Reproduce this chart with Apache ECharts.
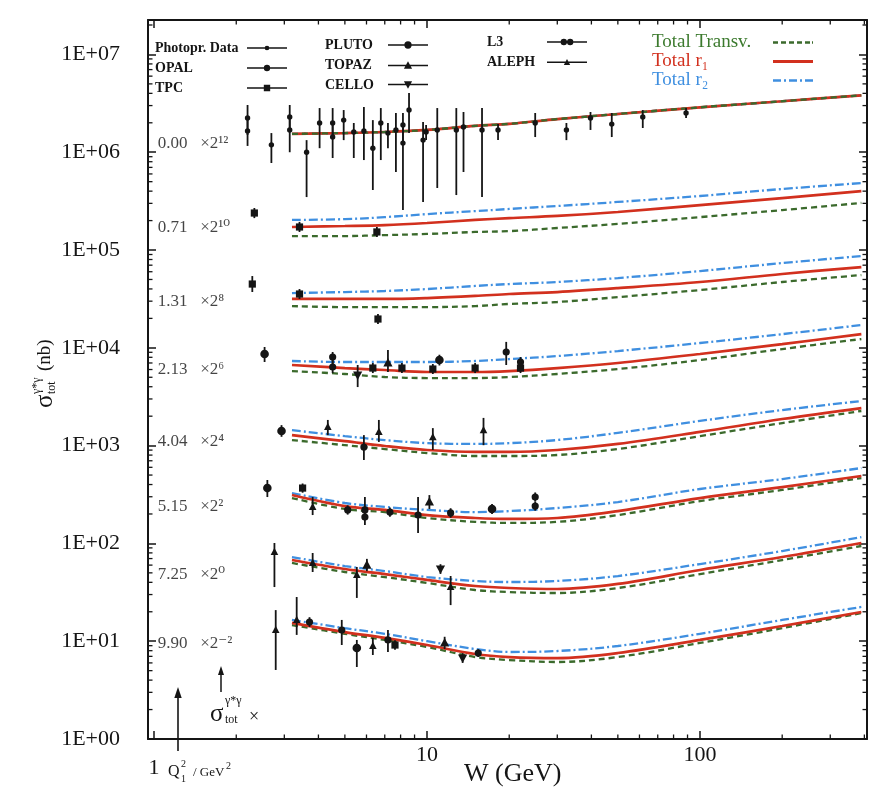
<!DOCTYPE html>
<html>
<head>
<meta charset="utf-8">
<title>Total γ*γ cross section</title>
<script src="https://cdn.jsdelivr.net/npm/echarts@6.0.0/dist/echarts.min.js"></script>
<style>
  html, body { margin: 0; padding: 0; background: #ffffff; }
  #chart { width: 875px; height: 792px; }
</style>
</head>
<body>
<div id="chart"></div>
<script>
// ---------------------------------------------------------------------------
// Model curves: W grid (GeV) and σ(γ*γ) values in nb, each bin already
// multiplied by the power-of-two factor written next to it.
// ---------------------------------------------------------------------------
const curveW = [3.2, 5, 7, 10, 15, 20, 30, 50, 100, 200, 390];

const bin000 = { // Q² = 0.00, ×2^12
  transv: [1.54e6, 1.57e6, 1.61e6, 1.69e6, 1.86e6, 1.95e6, 2.18e6, 2.46e6, 2.88e6, 3.32e6, 3.82e6],
  r1:     [1.54e6, 1.57e6, 1.61e6, 1.69e6, 1.86e6, 1.95e6, 2.18e6, 2.46e6, 2.88e6, 3.32e6, 3.82e6],
  r2:     [1.54e6, 1.57e6, 1.61e6, 1.69e6, 1.86e6, 1.95e6, 2.18e6, 2.46e6, 2.88e6, 3.32e6, 3.82e6]
};
const bin071 = { // Q² = 0.71, ×2^10
  transv: [1.39e5, 1.39e5, 1.42e5, 1.46e5, 1.53e5, 1.56e5, 1.68e5, 1.85e5, 2.17e5, 2.56e5, 3.03e5],
  r1:     [1.72e5, 1.76e5, 1.80e5, 1.89e5, 2.03e5, 2.12e5, 2.23e5, 2.45e5, 2.88e5, 3.40e5, 4.01e5],
  r2:     [2.03e5, 2.07e5, 2.17e5, 2.33e5, 2.50e5, 2.63e5, 2.82e5, 3.10e5, 3.57e5, 4.21e5, 4.84e5]
};
const bin131 = { // Q² = 1.31, ×2^8
  transv: [2.67e4, 2.61e4, 2.61e4, 2.61e4, 2.67e4, 2.81e4, 2.94e4, 3.30e4, 3.90e4, 4.71e4, 5.55e4],
  r1:     [3.16e4, 3.16e4, 3.16e4, 3.23e4, 3.39e4, 3.55e4, 3.72e4, 4.08e4, 4.71e4, 5.69e4, 6.70e4],
  r2:     [3.63e4, 3.72e4, 3.81e4, 3.99e4, 4.29e4, 4.49e4, 4.71e4, 5.17e4, 6.10e4, 7.36e4, 8.69e4]
};
const bin213 = { // Q² = 2.13, ×2^6
  transv: [5.79e3, 5.40e3, 5.03e3, 4.91e3, 4.91e3, 5.03e3, 5.40e3, 6.07e3, 7.50e3, 9.72e3, 1.23e4],
  r1:     [6.67e3, 6.21e3, 5.93e3, 5.66e3, 5.66e3, 5.79e3, 6.21e3, 7.00e3, 8.65e3, 1.09e4, 1.38e4],
  r2:     [7.33e3, 7.16e3, 7.16e3, 7.16e3, 7.33e3, 7.68e3, 8.24e3, 9.27e3, 1.12e4, 1.38e4, 1.71e4]
};
const bin404 = { // Q² = 4.04, ×2^4
  transv: [1140, 1010, 923, 840, 783, 783, 802, 923, 1250, 1700, 2260],
  r1:     [1280, 1110, 991, 902, 861, 861, 902, 1040, 1380, 1870, 2420],
  r2:     [1440, 1250, 1140, 1060, 1040, 1060, 1140, 1350, 1790, 2310, 2860]
};
const bin515 = { // Q² = 5.15, ×2^2
  transv: [291, 225, 209, 182, 166, 162, 166, 195, 271, 352, 466],
  r1:     [313, 241, 220, 195, 182, 178, 182, 214, 291, 377, 489],
  r2:     [327, 259, 236, 220, 209, 214, 230, 265, 360, 455, 590]
};
const bin725 = { // Q² = 7.25, ×2^0
  transv: [63.1, 51.0, 45.3, 39.4, 33.4, 31.8, 31.1, 35.0, 48.6, 67.6, 94.1],
  r1:     [67.6, 54.7, 48.6, 42.3, 36.7, 35.0, 34.2, 38.5, 53.5, 72.6, 101],
  r2:     [72.6, 58.7, 52.2, 45.3, 41.3, 40.3, 41.3, 46.4, 61.5, 83.6, 116]
};
const bin990 = { // Q² = 9.90, ×2^-2
  transv: [14.6, 11.9, 10.3, 8.73, 6.89, 6.42, 6.13, 6.89, 9.59, 13.6, 19.4],
  r1:     [15.4, 12.4, 10.8, 9.14, 7.40, 6.89, 6.73, 7.57, 10.3, 14.3, 19.9],
  r2:     [16.5, 13.6, 11.9, 10.0, 8.33, 7.76, 7.94, 8.93, 11.9, 16.5, 22.4]
};

// Bin captions and the σ level each caption sits at
const binLabels = ['0.00   ×2¹²', '0.71   ×2¹⁰', '1.31   ×2⁸', '2.13   ×2⁶',
                   '4.04   ×2⁴', '5.15   ×2²', '7.25   ×2⁰', '9.90   ×2⁻²'];
const binLabelLevels = [1.24e6, 1.68e5, 2.94e4, 5.93e3, 1090, 236, 48.6, 9.36];
const binLabelW = 1.03;

// ---------------------------------------------------------------------------
// Measurements: [W (GeV), σ, σ low, σ high]  (scaled like the curves)
// ---------------------------------------------------------------------------
const photoprData = [
  [2.20, 2.24e6, 1.50e6, 3.04e6], [2.20, 1.65e6, 1.16e6, 2.24e6],
  [2.69, 1.19e6, 7.76e5, 1.57e6],
  [3.14, 2.29e6, 1.77e6, 3.04e6], [3.14, 1.69e6, 1.00e6, 2.29e6],
  [3.62, 1.00e6, 3.48e5, 1.33e6],
  [4.04, 1.99e6, 1.10e6, 2.83e6],
  [4.51, 1.99e6, 1.43e6, 2.83e6], [4.51, 1.43e6, 8.73e5, 1.99e6],
  [4.95, 2.13e6, 1.33e6, 2.70e6],
  [5.39, 1.61e6, 8.73e5, 1.99e6],
  [5.87, 1.65e6, 8.32e5, 2.90e6],
  [6.33, 1.10e6, 4.11e5, 2.13e6],
  [6.77, 1.99e6, 8.32e5, 2.83e6],
  [7.19, 1.57e6, 1.10e6, 1.99e6],
  [7.69, 1.69e6, 6.28e5, 2.52e6],
  [8.16, 1.90e6, 1.24e6, 2.52e6], [8.16, 1.24e6, 2.56e5, 1.90e6],
  [8.59, 2.70e6, 1.57e6, 4.03e6],
  [9.67, 1.33e6, 3.10e5, 2.04e6],
  [9.92, 1.61e6, 1.33e6, 1.90e6],
  [10.9, 1.69e6, 4.31e5, 2.83e6],
  [12.8, 1.69e6, 3.65e5, 2.83e6],
  [13.6, 1.81e6, 6.28e5, 2.58e6],
  [15.9, 1.69e6, 3.48e5, 2.83e6],
  [18.2, 1.69e6, 1.33e6, 1.94e6],
  [24.9, 1.99e6, 1.43e6, 2.52e6],
  [32.4, 1.69e6, 1.33e6, 1.99e6],
  [39.7, 2.24e6, 1.69e6, 2.58e6],
  [47.5, 1.94e6, 1.43e6, 2.52e6],
  [61.7, 2.29e6, 1.77e6, 2.70e6],
  [88.9, 2.52e6, 2.24e6, 2.83e6]
];
const opalData = [
  [4.51, 8.05e3, 6.37e3, 9.06e3], [4.51, 6.37e3, 5.52e3, 8.05e3],
  [5.87, 968, 713, 1280],
  [5.12, 220, 197, 245], [5.92, 220, 186, 298], [5.92, 186, 154, 220],
  [7.31, 209, 187, 233], [9.27, 195, 128, 298], [12.2, 205, 183, 229],
  [3.71, 15.7, 14.0, 17.6], [4.87, 13.0, 9.14, 16.5],
  [7.19, 10.3, 7.76, 13.0], [15.4, 7.57, 6.90, 8.30]
];
const tpcData = [
  [2.33, 2.39e5, 2.12e5, 2.69e5], [3.41, 1.72e5, 1.53e5, 1.94e5], [6.55, 1.53e5, 1.36e5, 1.72e5],
  [2.29, 4.49e4, 3.72e4, 5.42e4], [3.41, 3.55e4, 3.16e4, 3.99e4], [6.61, 1.97e4, 1.75e4, 2.22e4],
  [6.33, 6.21e3, 5.52e3, 6.99e3], [8.09, 6.21e3, 5.52e3, 6.99e3],
  [10.5, 6.07e3, 5.40e3, 6.83e3], [15.0, 6.21e3, 5.52e3, 6.99e3],
  [22.0, 6.21e3, 5.52e3, 6.99e3],
  [3.50, 368, 330, 410],
  [7.63, 9.14, 8.20, 10.2]
];
const plutoData = [
  [2.54, 8.65e3, 7.16e3, 1.02e4], [11.1, 7.50e3, 6.60e3, 8.50e3],
  [2.93, 1410, 1230, 1620],
  [2.60, 368, 298, 445], [17.3, 225, 200, 253],
  [5.53, 8.52, 5.45, 10.3]
];
const topazData = [
  [7.19, 7.00e3, 5.66e3, 9.50e3],
  [10.2, 265, 225, 312],
  [6.02, 60.1, 52.0, 69.5],
  [11.6, 9.59, 8.30, 11.1]
];
const celloData = [
  [5.57, 5.27e3, 3.97e3, 6.67e3],
  [11.2, 54.7, 48.8, 61.3],
  [13.5, 6.73, 6.00, 7.55]
];
const l3Data = [
  [19.5, 9.06e3, 6.67e3, 1.15e4], [22.0, 7.16e3, 6.37e3, 8.05e3],
  [24.9, 298, 268, 332], [24.9, 241, 216, 268]
];
const alephData = [
  [4.33, 1550, 1280, 1830], [6.66, 1380, 1090, 1830],
  [10.5, 1220, 902, 1510], [16.1, 1440, 1010, 1920],
  [3.81, 236, 195, 298],
  [2.76, 81.7, 35.8, 101], [3.81, 63.1, 51.0, 79.8],
  [5.53, 47.5, 27.7, 57.4], [12.2, 35.8, 23.4, 46.4],
  [2.79, 13.0, 5.08, 20.8], [3.33, 16.5, 11.6, 28.3], [6.33, 8.93, 7.23, 10.8]
];

// ---------------------------------------------------------------------------
// Styling and layout
// ---------------------------------------------------------------------------
const INK = '#151515';
const SERIF = '"Liberation Serif", "DejaVu Serif", serif';
const X_MIN = 0.95, X_MAX = 409, Y_MIN = 1, Y_MAX = 2.25e7;

const bins = [bin000, bin071, bin131, bin213, bin404, bin515, bin725, bin990];

const curveStyles = [
  { key: 'r2',     name: 'Total r₂',      color: '#3f8fe0', width: 2.3, type: [9, 3, 2, 3], z: 2 },
  { key: 'transv', name: 'Total Transv.', color: '#3b6a2c', width: 2.3, type: [6, 4],       z: 3 },
  { key: 'r1',     name: 'Total r₁',      color: '#d2301e', width: 2.7, type: 'solid',      z: 4 }
];

const experiments = [
  { name: 'Photopr. Data', data: photoprData, marker: 'dot' },
  { name: 'OPAL',  data: opalData,  marker: 'circle' },
  { name: 'TPC',   data: tpcData,   marker: 'square' },
  { name: 'PLUTO', data: plutoData, marker: 'bigCircle' },
  { name: 'TOPAZ', data: topazData, marker: 'triUp' },
  { name: 'CELLO', data: celloData, marker: 'triDown' },
  { name: 'L3',    data: l3Data,    marker: 'circle' },
  { name: 'ALEPH', data: alephData, marker: 'smallTri' }
];

// Legend icons: a short bar with the experiment's marker in the middle (44×10 box),
// and plain line samples for the model curves (40 wide)
const BAR = 'M0,4.2H44V5.8H0Z ';
const legendIcons = {
  'Photopr. Data': 'path://' + BAR + 'M24.6,5A2.6,2.6 0 1 1 19.4,5A2.6,2.6 0 1 1 24.6,5Z',
  'OPAL':  'path://' + BAR + 'M25.5,5A3.5,3.5 0 1 1 18.5,5A3.5,3.5 0 1 1 25.5,5Z',
  'TPC':   'path://' + BAR + 'M18.5,1.5H25.5V8.5H18.5Z',
  'PLUTO': 'path://' + BAR + 'M26,5A4,4 0 1 1 18,5A4,4 0 1 1 26,5Z',
  'TOPAZ': 'path://' + BAR + 'M22,0.5L26.5,8.5H17.5Z',
  'CELLO': 'path://' + BAR + 'M17.5,1.5H26.5L22,9.5Z',
  'L3':    'path://' + BAR + 'M22,5A3.5,3.5 0 1 1 15,5A3.5,3.5 0 1 1 22,5Z M29,5A3.5,3.5 0 1 1 22,5A3.5,3.5 0 1 1 29,5Z',
  'ALEPH': 'path://' + BAR + 'M22,1.5L25.5,8H18.5Z',
  'Total Transv.': 'path://M0,3.8H5V6.2H0Z M8,3.8H13V6.2H8Z M16,3.8H21V6.2H16Z M24,3.8H29V6.2H24Z M32,3.8H37V6.2H32Z M39,3.8H40V6.2H39Z',
  'Total r₁':      'path://M0,3.6H40V6.4H0Z',
  'Total r₂':      'path://M0,3.8H8V6.2H0Z M11,3.8H13V6.2H11Z M16,3.8H24V6.2H16Z M27,3.8H29V6.2H27Z M32,3.8H40V6.2H32Z'
};

function markerEl(kind, x, y) {
  const style = { fill: INK };
  switch (kind) {
    case 'dot':       return { type: 'circle', shape: { cx: x, cy: y, r: 2.7 }, style };
    case 'circle':    return { type: 'circle', shape: { cx: x, cy: y, r: 3.6 }, style };
    case 'bigCircle': return { type: 'circle', shape: { cx: x, cy: y, r: 4.3 }, style };
    case 'square':    return { type: 'rect', shape: { x: x - 3.6, y: y - 3.6, width: 7.2, height: 7.2 }, style };
    case 'triUp':     return { type: 'polygon', shape: { points: [[x, y - 5], [x + 4.6, y + 3.6], [x - 4.6, y + 3.6]] }, style };
    case 'triDown':   return { type: 'polygon', shape: { points: [[x - 4.6, y - 3.6], [x + 4.6, y - 3.6], [x, y + 5]] }, style };
    default:          return { type: 'polygon', shape: { points: [[x, y - 4.2], [x + 3.8, y + 3], [x - 3.8, y + 3]] }, style };
  }
}

// Minor (2..9) ticks of each decade, drawn on all four frame sides
const xMinorTicks = [];
for (let e = 0; e <= 2; e++) for (let m = 2; m <= 9; m++) { const v = m * Math.pow(10, e); if (v < X_MAX) xMinorTicks.push(v); }
const yMinorTicks = [];
for (let e = 0; e <= 7; e++) for (let m = 2; m <= 9; m++) { const v = m * Math.pow(10, e); if (v < Y_MAX) yMinorTicks.push(v); }

function isDecade(v) {
  const l = Math.log10(v);
  return Math.abs(l - Math.round(l)) < 1e-6;
}

// ---------------------------------------------------------------------------
// Series
// ---------------------------------------------------------------------------
const series = [];

bins.forEach((bin, bi) => {
  curveStyles.forEach(cs => {
    // in the photoproduction bin the three curves coincide; keep the dark dashes on top
    const z = (bi === 0 && cs.key === 'transv') ? 5 : cs.z;
    series.push({
      type: 'line', name: cs.name, z, silent: true,
      showSymbol: false, symbol: 'none', smooth: 0.35,
      lineStyle: { color: cs.color, width: cs.width, type: cs.type },
      itemStyle: { color: cs.color },
      data: curveW.map((w, i) => [w, bin[cs.key][i]])
    });
  });
});

experiments.forEach(exp => {
  series.push({
    type: 'custom', name: exp.name, z: 6, silent: true,
    itemStyle: { color: INK },
    encode: { x: 0, y: 1 },
    data: exp.data,
    renderItem: (params, api) => {
      const w = api.value(0);
      const c = api.coord([w, api.value(1)]);
      const lo = api.coord([w, api.value(2)]);
      const hi = api.coord([w, api.value(3)]);
      return {
        type: 'group',
        children: [
          { type: 'line', shape: { x1: c[0], y1: lo[1], x2: c[0], y2: hi[1] }, style: { stroke: INK, lineWidth: 1.8 } },
          markerEl(exp.marker, c[0], c[1])
        ]
      };
    }
  });
});

// Bin captions
series.push({
  type: 'scatter', silent: true, z: 7,
  symbolSize: 0.1, itemStyle: { color: 'rgba(0,0,0,0)' },
  data: binLabelLevels.map(level => [binLabelW, level]),
  label: {
    show: true, position: 'right', distance: 0,
    formatter: p => binLabels[p.dataIndex],
    fontFamily: SERIF, fontSize: 17, color: INK
  }
});

// Minor ticks along the bottom/top and left/right frame
series.push({
  type: 'custom', silent: true, z: 8, clip: false,
  data: xMinorTicks.map(v => [v, 1]),
  renderItem: (params, api) => {
    const r = params.coordSys;
    const x = api.coord([api.value(0), 1])[0];
    const st = { stroke: INK, lineWidth: 1.3 };
    return { type: 'group', children: [
      { type: 'line', shape: { x1: x, y1: r.y + r.height, x2: x, y2: r.y + r.height - 4.5 }, style: st },
      { type: 'line', shape: { x1: x, y1: r.y, x2: x, y2: r.y + 4.5 }, style: st }
    ] };
  }
});
series.push({
  type: 'custom', silent: true, z: 8, clip: false,
  data: yMinorTicks.map(v => [1, v]),
  renderItem: (params, api) => {
    const r = params.coordSys;
    const y = api.coord([1, api.value(1)])[1];
    const st = { stroke: INK, lineWidth: 1.3 };
    return { type: 'group', children: [
      { type: 'line', shape: { x1: r.x, y1: y, x2: r.x + 4.5, y2: y }, style: st },
      { type: 'line', shape: { x1: r.x + r.width, y1: y, x2: r.x + r.width - 4.5, y2: y }, style: st }
    ] };
  }
});

// ---------------------------------------------------------------------------
// Legends
// ---------------------------------------------------------------------------
function dataLegend(names, left, top, textWidth) {
  return {
    orient: 'vertical', left, top, padding: 0, itemGap: 6,
    itemWidth: 40, itemHeight: 10, align: 'right', selectedMode: false,
    data: names.map(n => ({ name: n, icon: legendIcons[n] })),
    formatter: n => '{t|' + n + '}',
    textStyle: {
      rich: { t: { width: textWidth, align: 'left', lineHeight: 10, fontFamily: SERIF, fontSize: 14, fontWeight: 'bold', color: INK } }
    }
  };
}
const theoryTokens = { 'Total Transv.': 'g', 'Total r₁': 'r', 'Total r₂': 'b' };
const theoryRich = (color) => ({ width: 116, align: 'left', lineHeight: 10, fontFamily: SERIF, fontSize: 19, color });

const legends = [
  dataLegend(['Photopr. Data', 'OPAL', 'TPC'], 155, 41, 87),
  dataLegend(['PLUTO', 'TOPAZ', 'CELLO'], 325, 38, 58),
  dataLegend(['L3', 'ALEPH'], 487, 35, 55),
  {
    orient: 'vertical', left: 652, top: 33, padding: 0, itemGap: 0,
    itemWidth: 40, itemHeight: 10, align: 'right', selectedMode: false,
    data: ['Total Transv.', 'Total r₁', 'Total r₂'].map(n => ({ name: n, icon: legendIcons[n] })),
    formatter: n => '{' + theoryTokens[n] + '|' + n + '}',
    textStyle: { rich: { g: theoryRich('#3c7a2e'), r: theoryRich('#d2301e'), b: theoryRich('#3f8fe0') } }
  }
];

// ---------------------------------------------------------------------------
// Axes
// ---------------------------------------------------------------------------
const axisLine = { show: true, lineStyle: { color: INK, width: 2 } };
const axisTick = { show: true, inside: true, length: 8, lineStyle: { color: INK, width: 1.5 } };

const xAxes = [
  {
    type: 'log', logBase: 10, min: X_MIN, max: X_MAX, position: 'bottom',
    axisLine, axisTick, splitLine: { show: false },
    axisLabel: {
      margin: 5, fontFamily: SERIF, fontSize: 22, color: INK,
      formatter: v => {
        if (!isDecade(v)) return '';
        const s = String(Math.round(v));
        return s === '1' ? '{lo|1}' : s;
      },
      rich: { lo: { fontFamily: SERIF, fontSize: 22, color: INK, padding: [13, 0, 0, 0] } }
    }
  },
  {
    type: 'log', logBase: 10, min: X_MIN, max: X_MAX, position: 'top',
    axisLine, axisTick, splitLine: { show: false }, axisLabel: { show: false }
  }
];
const yAxes = [
  {
    type: 'log', logBase: 10, min: Y_MIN, max: Y_MAX, position: 'left',
    axisLine, axisTick, splitLine: { show: false },
    axisLabel: {
      margin: 28, fontFamily: SERIF, fontSize: 22, color: INK,
      formatter: v => {
        if (!isDecade(v)) return '';
        const e = Math.round(Math.log10(v));
        return '1E+' + (e < 10 ? '0' : '') + e;
      }
    }
  },
  {
    type: 'log', logBase: 10, min: Y_MIN, max: Y_MAX, position: 'right',
    axisLine, axisTick, splitLine: { show: false }, axisLabel: { show: false }
  }
];

// ---------------------------------------------------------------------------
// Free-standing annotations (axis titles, Q² marker and arrows)
// ---------------------------------------------------------------------------
const txt = (x, y, text, size, extra) => ({
  type: 'text', x, y, silent: true,
  style: Object.assign({ text, fontFamily: SERIF, fontSize: size, fill: INK, verticalAlign: 'middle' }, extra || {})
});
const graphic = [
  { type: 'group', x: 45, y: 408, rotation: Math.PI / 2, silent: true, children: [
    txt(0, 0, 'σ', 25),
    txt(14, -8, 'γ*γ', 12),
    txt(14, 7, 'tot', 12),
    txt(37, 0, '(nb)', 19)
  ] },
  txt(464, 774, 'W (GeV)', 26),
  txt(210, 714, 'σ', 25),
  txt(225, 701, 'γ*γ', 12),
  txt(225, 720, 'tot', 12),
  txt(249, 717, '×', 18),
  txt(168, 772, 'Q', 16),
  txt(181, 764, '2', 10),
  txt(181, 779, '1', 10),
  txt(193, 773, '/ GeV', 13),
  txt(226, 766, '2', 10),
  { type: 'line', silent: true, shape: { x1: 178, y1: 751, x2: 178, y2: 696 }, style: { stroke: INK, lineWidth: 1.6 } },
  { type: 'polygon', silent: true, shape: { points: [[178, 687], [174.3, 698], [181.7, 698]] }, style: { fill: INK } },
  { type: 'line', silent: true, shape: { x1: 221, y1: 692, x2: 221, y2: 674 }, style: { stroke: INK, lineWidth: 1.5 } },
  { type: 'polygon', silent: true, shape: { points: [[221, 666], [218, 675], [224, 675]] }, style: { fill: INK } }
];

// ---------------------------------------------------------------------------
const chart = echarts.init(document.getElementById('chart'), null, { renderer: 'canvas' });
chart.setOption({
  animation: false,
  backgroundColor: '#ffffff',
  grid: { left: 148, right: 8, top: 20, bottom: 53, containLabel: false, outerBoundsMode: 'none' },
  xAxis: xAxes,
  yAxis: yAxes,
  legend: legends,
  graphic,
  series
});
</script>
</body>
</html>
